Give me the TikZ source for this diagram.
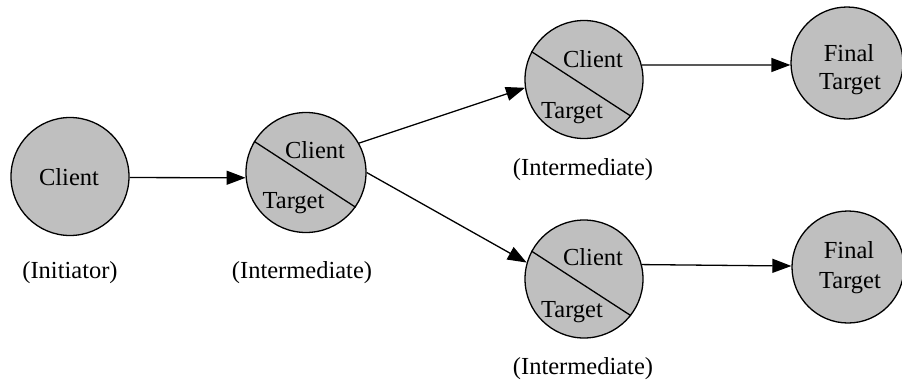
\documentclass[tikz,border=0pt]{standalone}
\usepackage{fontspec}
\setmainfont{Liberation Serif}
\usetikzlibrary{arrows.meta}
\begin{document}
\begin{tikzpicture}[x=1pt,y=-1pt,
  party/.style={circle,draw=black,fill=black!25,line width=1.3pt,inner sep=0pt,minimum size=#1},
  party/.default=118pt,
  lbl/.style={font=\fontsize{24.5}{29}\selectfont,inner sep=0pt,anchor=base},
  roletext/.style={font=\fontsize{24.5}{29}\selectfont,inner sep=0pt},
  link/.style={line width=1.3pt,-{Triangle[length=19pt,width=14pt]}},
  split/.style={line width=1.3pt}]
\useasboundingbox (0,0) rectangle (902,383);

% parties
\node[party] (c1) at (70,176.5) {};
\node[party=120pt] (c2) at (306,172.5) {};
\node[party] (c3) at (584,79.5) {};
\node[party] (c4) at (584,279) {};
\node[party=112pt] (f1) at (847,63) {};
\node[party=112pt] (f2) at (848,267) {};

% client/target split of the intermediates
\draw[split] (c2.149) -- (c2.-35);
\draw[split] (c3.152) -- (c3.-38);
\draw[split] (c4.152) -- (c4.-38);

% texts inside the circles
\node[lbl] (c1t) at (69,185) {Client};
\node[lbl] (c2a) at (315,158) {Client};
\node[lbl] (c2b) at (293.5,208) {Target};
\node[lbl] (c3a) at (593,67) {Client};
\node[lbl] (c3b) at (572,118) {Target};
\node[lbl] (c4a) at (593,265) {Client};
\node[lbl] (c4b) at (572,317) {Target};
\node[lbl] (f1a) at (849,61) {Final};
\node[lbl] (f1b) at (850,89) {Target};
\node[lbl] (f2a) at (849,258) {Final};
\node[lbl] (f2b) at (850,288) {Target};

% role captions
\node[roletext] (r1) at (70,273) {(Initiator)};
\node[roletext] (r2) at (302,273) {(Intermediate)};
\node[roletext] (r3) at (583,170) {(Intermediate)};
\node[roletext] (r4) at (583,369) {(Intermediate)};

% connections
\draw[link] (c1.-1) -- (c2.185);
\draw[link] (c2.29.5) -- (c3.188);
\draw[link] (c2.0) -- (c4.164);
\draw[link] (c3.14) -- (f1.182);
\draw[link] (c4.14) -- (f2.179);
\end{tikzpicture}
\end{document}
